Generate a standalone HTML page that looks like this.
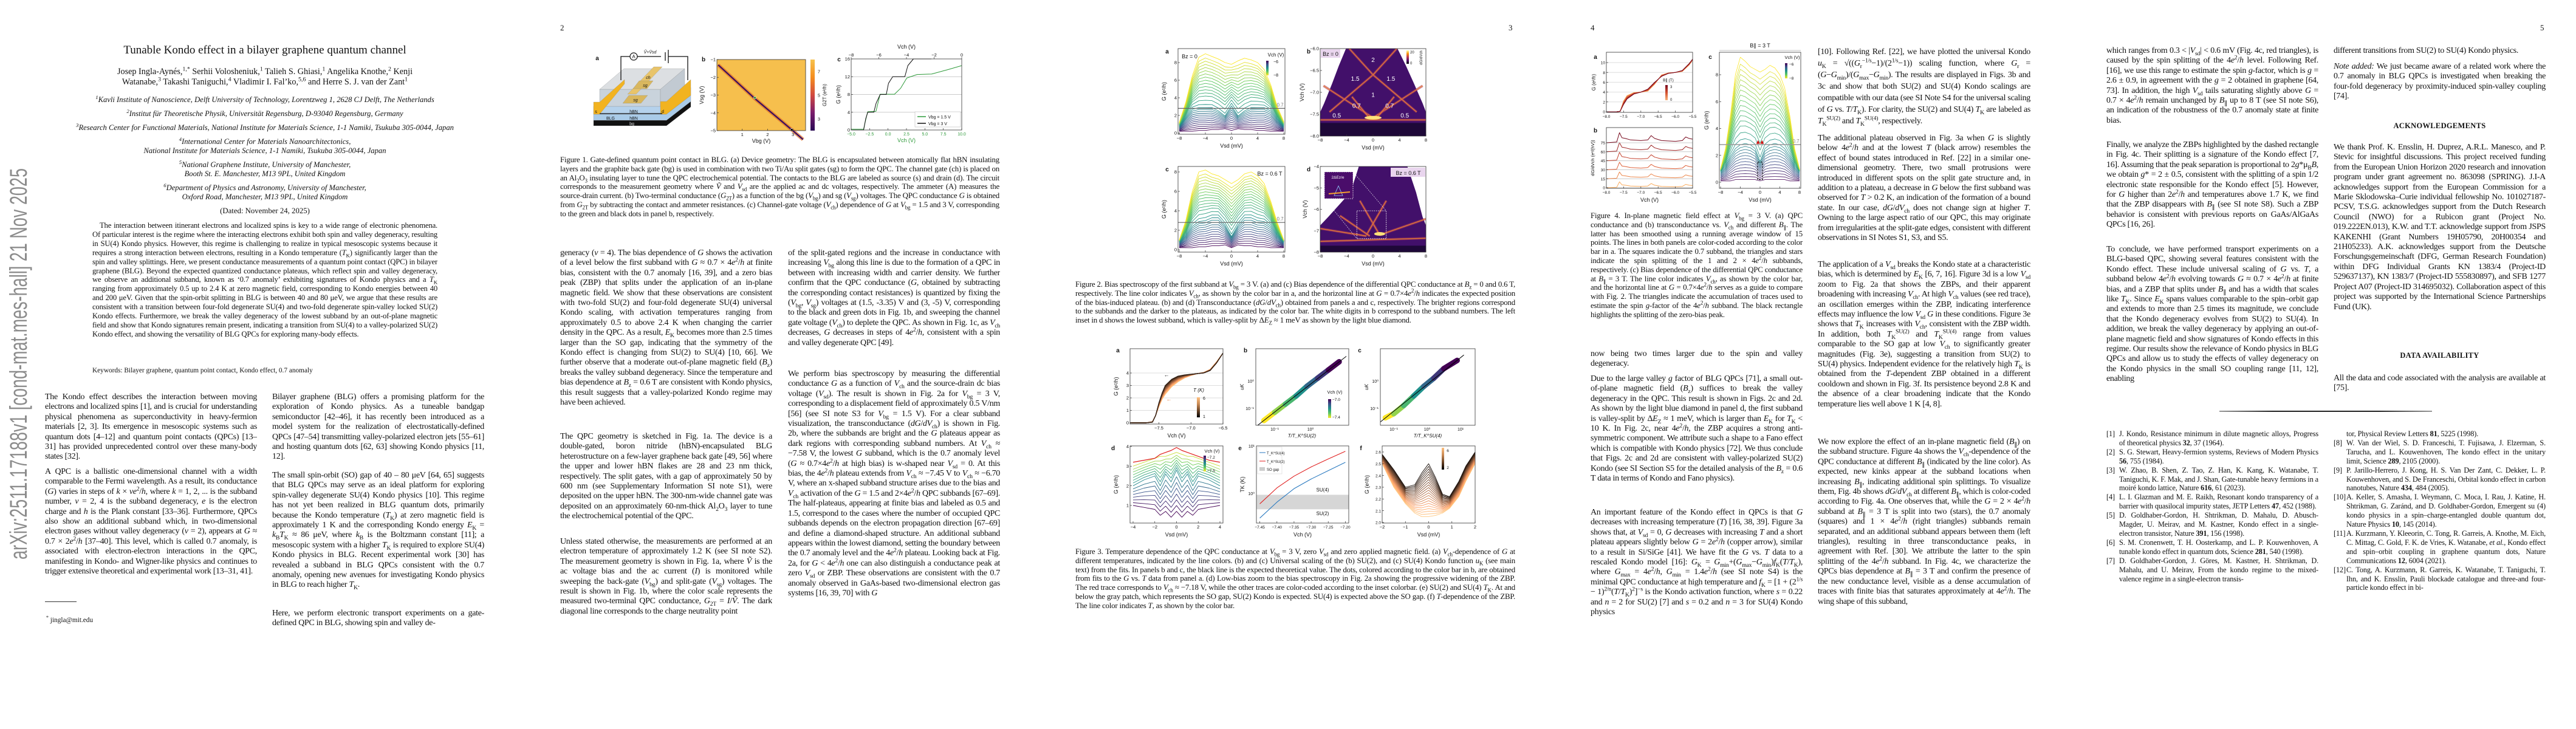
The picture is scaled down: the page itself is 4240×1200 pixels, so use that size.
<!DOCTYPE html>
<html><head><meta charset="utf-8">
<style>
body{margin:0;width:4240px;height:1200px;background:#fff;position:relative;overflow:hidden;font-family:"Liberation Serif",serif;color:#111}
.t{position:absolute;font-size:14px;letter-spacing:-0.3px;line-height:16.4px;text-align:justify;overflow:hidden;margin:0}
.c{position:absolute;font-size:12.9px;letter-spacing:-0.2px;line-height:14.8px;text-align:justify;overflow:hidden;margin:0}
.r{position:absolute;font-size:12.3px;letter-spacing:-0.15px;line-height:14.9px;text-align:justify;overflow:hidden}
.ref{position:relative;padding-left:21px}
.ref .n{position:absolute;left:0;top:0}
.ctr{position:absolute;text-align:center;white-space:nowrap}
sub,sup{font-size:70%;line-height:0}
.pn{position:absolute;top:38px;font-size:13px}
h3{position:absolute;margin:0;font-size:12.5px;font-weight:bold;letter-spacing:0.3px;text-align:center;width:349px}
</style></head><body>

<div class="pn" style="left:922px">2</div>
<div class="pn" style="left:2483px">3</div>
<div class="pn" style="left:2618px">4</div>
<div class="pn" style="left:4181px">5</div>

<!-- PAGE 1 -->
<div class="ctr" style="left:74px;width:724px;top:72px;font-size:19px">Tunable Kondo effect in a bilayer graphene quantum channel</div>
<div class="ctr" style="left:74px;width:724px;top:110px;font-size:14.2px;line-height:17px">Josep Ingla-Aynés,<sup>1,*</sup> Serhii Volosheniuk,<sup>1</sup> Talieh S. Ghiasi,<sup>1</sup> Angelika Knothe,<sup>2</sup> Kenji<br>Watanabe,<sup>3</sup> Takashi Taniguchi,<sup>4</sup> Vladimir I. Fal’ko,<sup>5,6</sup> and Herre S. J. van der Zant<sup>1</sup></div>
<div class="ctr" style="left:74px;width:724px;top:157px;font-size:12.6px;font-style:italic"><sup>1</sup>Kavli Institute of Nanoscience, Delft University of Technology, Lorentzweg 1, 2628 CJ Delft, The Netherlands</div>
<div class="ctr" style="left:74px;width:724px;top:180px;font-size:12.6px;font-style:italic"><sup>2</sup>Institut für Theoretische Physik, Universität Regensburg, D-93040 Regensburg, Germany</div>
<div class="ctr" style="left:74px;width:724px;top:203px;font-size:12.6px;font-style:italic"><sup>3</sup>Research Center for Functional Materials, National Institute for Materials Science, 1-1 Namiki, Tsukuba 305-0044, Japan</div>
<div class="ctr" style="left:74px;width:724px;top:226px;font-size:12.6px;line-height:15px;font-style:italic"><sup>4</sup>International Center for Materials Nanoarchitectonics,<br>National Institute for Materials Science, 1-1 Namiki, Tsukuba 305-0044, Japan</div>
<div class="ctr" style="left:74px;width:724px;top:264px;font-size:12.6px;line-height:15px;font-style:italic"><sup>5</sup>National Graphene Institute, University of Manchester,<br>Booth St. E. Manchester, M13 9PL, United Kingdom</div>
<div class="ctr" style="left:74px;width:724px;top:302px;font-size:12.6px;line-height:15px;font-style:italic"><sup>6</sup>Department of Physics and Astronomy, University of Manchester,<br>Oxford Road, Manchester, M13 9PL, United Kingdom</div>
<div class="ctr" style="left:74px;width:724px;top:340px;font-size:12.8px">(Dated: November 24, 2025)</div>
<p class="c" style="left:152px;top:364px;width:568px;height:224px;font-size:12.7px;line-height:14.9px;text-indent:12px">The interaction between itinerant electrons and localized spins is key to a wide range of electronic phenomena. Of particular interest is the regime where the interacting electrons exhibit both spin and valley degeneracy, resulting in SU(4) Kondo physics. However, this regime is challenging to realize in typical mesoscopic systems because it requires a strong interaction between electrons, resulting in a Kondo temperature (<i>T</i><sub>K</sub>) significantly larger than the spin and valley splittings. Here, we present conductance measurements of a quantum point contact (QPC) in bilayer graphene (BLG). Beyond the expected quantized conductance plateaus, which reflect spin and valley degeneracy, we observe an additional subband, known as ‘0.7 anomaly’ exhibiting signatures of Kondo physics and a <i>T</i><sub>K</sub> ranging from approximately 0.5 up to 2.4 K at zero magnetic field, corresponding to Kondo energies between 40 and 200 μeV. Given that the spin-orbit splitting in BLG is between 40 and 80 μeV, we argue that these results are consistent with a transition between four-fold degenerate SU(4) and two-fold degenerate spin-valley locked SU(2) Kondo effects. Furthermore, we break the valley degeneracy of the lowest subband by an out-of-plane magnetic field and show that Kondo signatures remain present, indicating a transition from SU(4) to a valley-polarized SU(2) Kondo effect, and showing the versatility of BLG QPCs for exploring many-body effects.</p>
<div style="position:absolute;left:152px;top:604px;font-size:11.3px">Keywords: Bilayer graphene, quantum point contact, Kondo effect, 0.7 anomaly</div>

<p class="t" style="left:74px;top:646px;width:349px;height:115px">The Kondo effect describes the interaction between moving electrons and localized spins [1], and is crucial for understanding physical phenomena as superconductivity in heavy-fermion materials [2, 3]. Its emergence in mesoscopic systems such as quantum dots [4–12] and quantum point contacts (QPCs) [13–31] has provided unprecedented control over these many-body states [32].</p>
<p class="t" style="left:74px;top:769px;width:349px;height:214px">A QPC is a ballistic one-dimensional channel with a width comparable to the Fermi wavelength. As a result, its conductance (<i>G</i>) varies in steps of <i>k</i> × <i>νe</i><sup>2</sup>/<i>h</i>, where <i>k</i> = 1, 2, ... is the subband number, <i>ν</i> = 2, 4 is the subband degeneracy, <i>e</i> is the electron charge and <i>h</i> is the Plank constant [33–36]. Furthermore, QPCs also show an additional subband which, in two-dimensional electron gases without valley degeneracy (<i>ν</i> = 2), appears at <i>G</i> ≈ 0.7 × 2<i>e</i><sup>2</sup>/<i>h</i> [37–40]. This level, which is called 0.7 anomaly, is associated with electron-electron interactions in the QPC, manifesting in Kondo- and Wigner-like physics and continues to trigger extensive theoretical and experimental work [13–31, 41].</p>
<div style="position:absolute;left:74px;top:990px;width:52px;border-top:1px solid #333"></div>
<div style="position:absolute;left:76px;top:1015px;font-size:11.3px"><sup>*</sup> jingla@mit.edu</div>

<p class="t" style="left:448px;top:646px;width:349px;height:115px">Bilayer graphene (BLG) offers a promising platform for the exploration of Kondo physics. As a tuneable bandgap semiconductor [42–46], it has recently been introduced as a model system for the realization of electrostatically-defined QPCs [47–54] transmitting valley-polarized electron jets [55–61] and hosting quantum dots [62, 63] showing Kondo physics [11, 12].</p>
<p class="t" style="left:448px;top:775px;width:349px;height:214px">The small spin-orbit (SO) gap of 40 – 80 μeV [64, 65] suggests that BLG QPCs may serve as an ideal platform for exploring spin-valley degenerate SU(4) Kondo physics [10]. This regime has not yet been realized in BLG quantum dots, primarily because the Kondo temperature (<i>T</i><sub>K</sub>) at zero magnetic field is approximately 1 K and the corresponding Kondo energy <i>E</i><sub>K</sub> = <i>k</i><sub>B</sub><i>T</i><sub>K</sub> ≈ 86 μeV, where <i>k</i><sub>B</sub> is the Boltzmann constant [11]; a mesoscopic system with a higher <i>T</i><sub>K</sub> is required to explore SU(4) Kondo physics in BLG. Recent experimental work [30] has revealed a subband in BLG QPCs consistent with the 0.7 anomaly, opening new avenues for investigating Kondo physics in BLG to reach higher <i>T</i><sub>K</sub>.</p>
<p class="t" style="left:448px;top:1002px;width:349px;height:33px">Here, we perform electronic transport experiments on a gate-defined QPC in BLG, showing spin and valley de-</p>

<!-- PAGE 2 -->
<p class="c" style="left:922px;top:256px;width:723px;height:120px">Figure 1. Gate-defined quantum point contact in BLG. (a) Device geometry: The BLG is encapsulated between atomically flat hBN insulating layers and the graphite back gate (bg) is used in combination with two Ti/Au split gates (sg) to form the QPC. The channel gate (ch) is placed on an Al<sub>2</sub>O<sub>3</sub> insulating layer to tune the QPC electrochemical potential. The contacts to the BLG are labeled as source (s) and drain (d). The circuit corresponds to the measurement geometry where <i>Ṽ</i> and <i>V</i><sub>sd</sub> are the applied ac and dc voltages, respectively. The ammeter (A) measures the source-drain current. (b) Two-terminal conductance (<i>G</i><sub>2T</sub>) as a function of the bg (<i>V</i><sub>bg</sub>) and sg (<i>V</i><sub>sg</sub>) voltages. The QPC conductance <i>G</i> is obtained from <i>G</i><sub>2T</sub> by subtracting the contact and ammeter resistances. (c) Channel-gate voltage (<i>V</i><sub>ch</sub>) dependence of <i>G</i> at <i>V</i><sub>bg</sub> = 1.5 and 3 V, corresponding to the green and black dots in panel b, respectively.</p>
<p class="t" style="left:922px;top:409px;width:349px;height:295px">generacy (<i>ν</i> = 4). The bias dependence of <i>G</i> shows the activation of a level below the first subband with <i>G</i> ≈ 0.7 × 4<i>e</i><sup>2</sup>/<i>h</i> at finite bias, consistent with the 0.7 anomaly [16, 39], and a zero bias peak (ZBP) that splits under the application of an in-plane magnetic field. We show that these observations are consistent with two-fold SU(2) and four-fold degenerate SU(4) universal Kondo scaling, with activation temperatures ranging from approximately 0.5 to above 2.4 K when changing the carrier density in the QPC. As a result, <i>E</i><sub>K</sub> becomes more than 2.5 times larger than the SO gap, indicating that the symmetry of the Kondo effect is changing from SU(2) to SU(4) [10, 66]. We further observe that a moderate out-of-plane magnetic field (<i>B</i><sub>z</sub>) breaks the valley subband degeneracy. Since the temperature and bias dependence at <i>B</i><sub>z</sub> = 0.6 T are consistent with Kondo physics, this result suggests that a valley-polarized Kondo regime may have been achieved.</p>
<p class="t" style="left:922px;top:711px;width:349px;height:164px">The QPC geometry is sketched in Fig. 1a. The device is a double-gated, boron nitride (hBN)-encapsulated BLG heterostructure on a few-layer graphene back gate [49, 56] where the upper and lower hBN flakes are 28 and 23 nm thick, respectively. The split gates, with a gap of approximately 50 by 600 nm (see Supplementary Information SI note S1), were deposited on the upper hBN. The 300-nm-wide channel gate was deposited on an approximately 60-nm-thick Al<sub>2</sub>O<sub>3</sub> layer to tune the electrochemical potential of the QPC.</p>
<p class="t" style="left:922px;top:884px;width:349px;height:148px">Unless stated otherwise, the measurements are performed at an electron temperature of approximately 1.2 K (see SI note S2). The measurement geometry is shown in Fig. 1a, where <i>Ṽ</i> is the ac voltage bias and the ac current (<i>I</i>) is monitored while sweeping the back-gate (<i>V</i><sub>bg</sub>) and split-gate (<i>V</i><sub>sg</sub>) voltages. The result is shown in Fig. 1b, where the color scale represents the measured two-terminal QPC conductance, <i>G</i><sub>2T</sub> = <i>I</i>/<i>Ṽ</i>. The dark diagonal line corresponds to the charge neutrality point</p>
<p class="t" style="left:1297px;top:409px;width:349px;height:181px">of the split-gated regions and the increase in conductance with increasing <i>V</i><sub>bg</sub> along this line is due to the formation of a QPC in between with increasing width and carrier density. We further confirm that the QPC conductance (<i>G</i>, obtained by subtracting the corresponding contact resistances) is quantized by fixing the (<i>V</i><sub>bg</sub>, <i>V</i><sub>sg</sub>) voltages at (1.5, -3.35) V and (3, -5) V, corresponding to the black and green dots in Fig. 1b, and sweeping the channel gate voltage (<i>V</i><sub>ch</sub>) to deplete the QPC. As shown in Fig. 1c, as <i>V</i><sub>ch</sub> decreases, <i>G</i> decreases in steps of 4<i>e</i><sup>2</sup>/<i>h</i>, consistent with a spin and valley degenerate QPC [49].</p>
<p class="t" style="left:1297px;top:608px;width:349px;height:427px">We perform bias spectroscopy by measuring the differential conductance <i>G</i> as a function of <i>V</i><sub>ch</sub> and the source-drain dc bias voltage (<i>V</i><sub>sd</sub>). The result is shown in Fig. 2a for <i>V</i><sub>bg</sub> = 3 V, corresponding to a displacement field of approximately 0.5 V/nm [56] (see SI note S3 for <i>V</i><sub>bg</sub> = 1.5 V). For a clear subband visualization, the transconductance (<i>dG</i>/<i>dV</i><sub>ch</sub>) is shown in Fig. 2b, where the subbands are bright and the <i>G</i> plateaus appear as dark regions with corresponding subband numbers. At <i>V</i><sub>ch</sub> ≈ −7.58 V, the lowest <i>G</i> subband, which is the 0.7 anomaly level (<i>G</i> ≈ 0.7×4<i>e</i><sup>2</sup>/<i>h</i> at high bias) is w-shaped near <i>V</i><sub>sd</sub> = 0. At this bias, the 4<i>e</i><sup>2</sup>/<i>h</i> plateau extends from <i>V</i><sub>ch</sub> ≈ −7.45 V to <i>V</i><sub>ch</sub> ≈ −6.70 V, where an x-shaped subband structure arises due to the bias and <i>V</i><sub>ch</sub> activation of the <i>G</i> = 1.5 and 2×4<i>e</i><sup>2</sup>/<i>h</i> QPC subbands [67–69]. The half-plateaus, appearing at finite bias and labeled as 0.5 and 1.5, correspond to the cases where the number of occupied QPC subbands depends on the electron propagation direction [67–69] and define a diamond-shaped structure. An additional subband appears within the lowest diamond, setting the boundary between the 0.7 anomaly level and the 4<i>e</i><sup>2</sup>/<i>h</i> plateau. Looking back at Fig. 2a, for <i>G</i> &lt; 4<i>e</i><sup>2</sup>/<i>h</i> one can also distinguish a conductance peak at zero <i>V</i><sub>sd</sub> or ZBP. These observations are consistent with the 0.7 anomaly observed in GaAs-based two-dimensional electron gas systems [16, 39, 70] with <i>G</i></p>

<!-- PAGE 3 -->
<p class="c" style="left:1770px;top:461px;width:724px;height:90px">Figure 2. Bias spectroscopy of the first subband at <i>V</i><sub>bg</sub> = 3 V. (a) and (c) Bias dependence of the differential QPC conductance at <i>B</i><sub>z</sub> = 0 and 0.6 T, respectively. The line color indicates <i>V</i><sub>ch</sub>, as shown by the color bar in a, and the horizontal line at <i>G</i> = 0.7×4<i>e</i><sup>2</sup>/<i>h</i> indicates the expected position of the bias-induced plateau. (b) and (d) Transconductance (<i>dG</i>/<i>dV</i><sub>ch</sub>) obtained from panels a and c, respectively. The brighter regions correspond to the subbands and the darker to the plateaus, as indicated by the color bar. The white digits in b correspond to the subband numbers. The left inset in d shows the lowest subband, which is valley-split by Δ<i>E</i><sub>Z</sub> ≈ 1 meV as shown by the light blue diamond.</p>
<p class="c" style="left:1770px;top:901px;width:724px;height:120px">Figure 3. Temperature dependence of the QPC conductance at <i>V</i><sub>bg</sub> = 3 V, zero <i>V</i><sub>sd</sub> and zero applied magnetic field. (a) <i>V</i><sub>ch</sub>-dependence of <i>G</i> at different temperatures, indicated by the line colors. (b) and (c) Universal scaling of the (b) SU(2), and (c) SU(4) Kondo function <i>u</i><sub>K</sub> (see main text) from the fits. In panels b and c, the black line is the expected theoretical value. The dots, colored according to the color bar in b, are obtained from fits to the <i>G</i> vs. <i>T</i> data from panel a. (d) Low-bias zoom to the bias spectroscopy in Fig. 2a showing the progressive widening of the ZBP. The red trace corresponds to <i>V</i><sub>ch</sub> ≈ −7.18 V, while the other traces are color-coded according to the inset colorbar. (e) SU(2) and SU(4) <i>T</i><sub>K</sub>. At and below the gray patch, which represents the SO gap, SU(2) Kondo is expected. SU(4) is expected above the SO gap. (f) <i>T</i>-dependence of the ZBP. The line color indicates <i>T</i>, as shown by the color bar.</p>

<!-- PAGE 4 -->
<p class="c" style="left:2618px;top:348px;width:349px;height:194px">Figure 4. In-plane magnetic field effect at <i>V</i><sub>bg</sub> = 3 V. (a) QPC conductance and (b) transconductance vs. <i>V</i><sub>ch</sub> and different <i>B</i><sub>∥</sub>. The latter has been smoothed using a running average window of 15 points. The lines in both panels are color-coded according to the color bar in a. The squares indicate the 0.7 subband, the triangles and stars indicate the spin splitting of the 1 and 2 × 4<i>e</i><sup>2</sup>/<i>h</i> subbands, respectively. (c) Bias dependence of the differential QPC conductance at <i>B</i><sub>∥</sub> = 3 T. The line color indicates <i>V</i><sub>ch</sub>, as shown by the color bar, and the horizontal line at <i>G</i> = 0.7×4<i>e</i><sup>2</sup>/<i>h</i> serves as a guide to compare with Fig. 2. The triangles indicate the accumulation of traces used to estimate the spin <i>g</i>-factor of the 4<i>e</i><sup>2</sup>/<i>h</i> subband. The black rectangle highlights the splitting of the zero-bias peak.</p>
<p class="t" style="left:2618px;top:575px;width:349px;height:33px">now being two times larger due to the spin and valley degeneracy.</p>
<p class="t" style="left:2618px;top:616px;width:349px;height:214px">Due to the large valley <i>g</i> factor of BLG QPCs [71], a small out-of-plane magnetic field (<i>B</i><sub>z</sub>) suffices to break the valley degeneracy in the QPC. This result is shown in Figs. 2c and 2d. As shown by the light blue diamond in panel d, the first subband is valley-split by Δ<i>E</i><sub>Z</sub> ≈ 1 meV, which is larger than <i>E</i><sub>K</sub> for <i>T</i><sub>K</sub> &lt; 10 K. In Fig. 2c, near 4<i>e</i><sup>2</sup>/<i>h</i>, the ZBP acquires a strong anti-symmetric component. We attribute such a shape to a Fano effect which is compatible with Kondo physics [72]. We thus conclude that Figs. 2c and 2d are consistent with valley-polarized SU(2) Kondo (see SI Section S5 for the detailed analysis of the <i>B</i><sub>z</sub> = 0.6 T data in terms of Kondo and Fano physics).</p>
<p class="t" style="left:2618px;top:836px;width:349px;height:197px">An important feature of the Kondo effect in QPCs is that <i>G</i> decreases with increasing temperature (<i>T</i>) [16, 38, 39]. Figure 3a shows that, at <i>V</i><sub>sd</sub> = 0, <i>G</i> decreases with increasing <i>T</i> and a short plateau appears slightly below <i>G</i> = 2<i>e</i><sup>2</sup>/<i>h</i> (copper arrow), similar to a result in Si/SiGe [41]. We have fit the <i>G</i> vs. <i>T</i> data to a rescaled Kondo model [16]: <i>G</i><sub>K</sub> = <i>G</i><sub>min</sub>+(<i>G</i><sub>max</sub>−<i>G</i><sub>min</sub>)<i>f</i><sub>K</sub>(<i>T</i>/<i>T</i><sub>K</sub>), where <i>G</i><sub>max</sub> = 4<i>e</i><sup>2</sup>/<i>h</i>, <i>G</i><sub>min</sub> = 1.4<i>e</i><sup>2</sup>/<i>h</i> (see SI note S4) is the minimal QPC conductance at high temperature and <i>f</i><sub>K</sub> = [1 + (2<sup>1/s</sup> − 1)<sup>2/n</sup>(<i>T</i>/<i>T</i><sub>K</sub>)<sup>2</sup>]<sup>−s</sup> is the Kondo activation function, where <i>s</i> = 0.22 and <i>n</i> = 2 for SU(2) [7] and <i>s</i> = 0.2 and <i>n</i> = 3 for SU(4) Kondo physics</p>
<p class="t" style="left:2992px;top:76px;width:350px;height:134px;line-height:19px">[10]. Following Ref. [22], we have plotted the universal Kondo <i>u</i><sub>K</sub> = √((<i>G</i><sub>r</sub><sup>−1/s</sup>−1)/(2<sup>1/s</sup>−1)) scaling function, where <i>G</i><sub>r</sub> = (<i>G</i>−<i>G</i><sub>min</sub>)/(<i>G</i><sub>max</sub>−<i>G</i><sub>min</sub>). The results are displayed in Figs. 3b and 3c and show that both SU(2) and SU(4) Kondo scalings are compatible with our data (see SI Note S4 for the universal scaling of <i>G</i> vs. <i>T</i>/<i>T</i><sub>K</sub>). For clarity, the SU(2) and SU(4) <i>T</i><sub>K</sub> are labeled as <i>T</i><sub>K</sub><sup>SU(2)</sup> and <i>T</i><sub>K</sub><sup>SU(4)</sup>, respectively.</p>
<p class="t" style="left:2992px;top:220px;width:350px;height:197px">The additional plateau observed in Fig. 3a when <i>G</i> is slightly below 4<i>e</i><sup>2</sup>/<i>h</i> and at the lowest <i>T</i> (black arrow) resembles the effect of bound states introduced in Ref. [22] in a similar one-dimensional geometry. There, two small protrusions were introduced in different spots on the split gate structure and, in addition to a plateau, a decrease in <i>G</i> below the first subband was observed for <i>T</i> &gt; 0.2 K, an indication of the formation of a bound state. In our case, <i>dG</i>/<i>dV</i><sub>ch</sub> does not change sign at higher <i>T</i>. Owning to the large aspect ratio of our QPC, this may originate from irregularities at the split-gate edges, consistent with different observations in SI Notes S1, S3, and S5.</p>
<p class="t" style="left:2992px;top:428px;width:350px;height:280px">The application of a <i>V</i><sub>sd</sub> breaks the Kondo state at a characteristic bias, which is determined by <i>E</i><sub>K</sub> [6, 7, 16]. Figure 3d is a low <i>V</i><sub>sd</sub> zoom to Fig. 2a that shows the ZBPs, and their apparent broadening with increasing <i>V</i><sub>ch</sub>. At high <i>V</i><sub>ch</sub> values (see red trace), an oscillation emerges within the ZBP, indicating interference effects may influence the low <i>V</i><sub>sd</sub> <i>G</i> in these conditions. Figure 3e shows that <i>T</i><sub>K</sub> increases with <i>V</i><sub>ch</sub>, consistent with the ZBP width. In addition, both <i>T</i><sub>K</sub><sup>SU(2)</sup> and <i>T</i><sub>K</sub><sup>SU(4)</sup> range from values comparable to the SO gap at low <i>V</i><sub>ch</sub> to significantly greater magnitudes (Fig. 3e), suggesting a transition from SU(2) to SU(4) physics. Independent evidence for the relatively high <i>T</i><sub>K</sub> is obtained from the <i>T</i>-dependent ZBP obtained in a different cooldown and shown in Fig. 3f. Its persistence beyond 2.8 K and the absence of a clear broadening indicate that the Kondo temperature lies well above 1 K [4, 8].</p>
<p class="t" style="left:2992px;top:720px;width:350px;height:313px">We now explore the effect of an in-plane magnetic field (<i>B</i><sub>∥</sub>) on the subband structure. Figure 4a shows the <i>V</i><sub>ch</sub>-dependence of the QPC conductance at different <i>B</i><sub>∥</sub> (indicated by the line color). As expected, new kinks appear at the subband locations when increasing <i>B</i><sub>∥</sub>, indicating additional spin splittings. To visualize them, Fig. 4b shows <i>dG</i>/<i>dV</i><sub>ch</sub> at different <i>B</i><sub>∥</sub>, which is color-coded according to Fig. 4a. One observes that, while the <i>G</i> = 2 × 4<i>e</i><sup>2</sup>/<i>h</i> subband at <i>B</i><sub>∥</sub> = 3 T is split into two (stars), the 0.7 anomaly (squares) and 1 × 4<i>e</i><sup>2</sup>/<i>h</i> (right triangles) subbands remain separated, and an additional subband appears between them (left triangles), resulting in three transconductance peaks, in agreement with Ref. [30]. We attribute the latter to the spin splitting of the 4<i>e</i><sup>2</sup>/<i>h</i> subband. In Fig. 4c, we characterize the QPCs bias dependence at <i>B</i><sub>∥</sub> = 3 T and confirm the presence of the new conductance level, visible as a dense accumulation of traces with finite bias that saturates approximately at 4<i>e</i><sup>2</sup>/<i>h</i>. The wing shape of this subband,</p>

<!-- PAGE 5 -->
<p class="t" style="left:3467px;top:76px;width:349px;height:148px">which ranges from 0.3 &lt; |<i>V</i><sub>sd</sub>| &lt; 0.6 mV (Fig. 4c, red triangles), is caused by the spin splitting of the 4<i>e</i><sup>2</sup>/<i>h</i> level. Following Ref. [16], we use this range to estimate the spin <i>g</i>-factor, which is <i>g</i> = 2.6 ± 0.9, in agreement with the <i>g</i> = 2 obtained in graphene [64, 73]. In addition, the high <i>V</i><sub>sd</sub> tails saturating slightly above <i>G</i> = 0.7 × 4<i>e</i><sup>2</sup>/<i>h</i> remain unchanged by <i>B</i><sub>∥</sub> up to 8 T (see SI note S6), an indication of the robustness of the 0.7 anomaly state at finite bias.</p>
<p class="t" style="left:3467px;top:231px;width:349px;height:164px">Finally, we analyze the ZBPs highlighted by the dashed rectangle in Fig. 4c. Their splitting is a signature of the Kondo effect [7, 16]. Assuming that the peak separation is proportional to 2<i>g</i>*μ<sub>B</sub><i>B</i>, we obtain <i>g</i>* = 2 ± 0.5, consistent with the splitting of a spin 1/2 electronic state responsible for the Kondo effect [5]. However, for <i>G</i> higher than 2<i>e</i><sup>2</sup>/<i>h</i> and temperatures above 1.7 K, we find that the ZBP disappears with <i>B</i><sub>∥</sub> (see SI note S8). Such a ZBP behavior is consistent with previous reports on GaAs/AlGaAs QPCs [16, 26].</p>
<p class="t" style="left:3467px;top:403px;width:349px;height:247px">To conclude, we have performed transport experiments on a BLG-based QPC, showing several features consistent with the Kondo effect. These include universal scaling of <i>G</i> vs. <i>T</i>, a subband below 4<i>e</i><sup>2</sup>/<i>h</i> evolving towards <i>G</i> ≈ 0.7 × 4<i>e</i><sup>2</sup>/<i>h</i> at finite bias, and a ZBP that splits under <i>B</i><sub>∥</sub> and has a width that scales like <i>T</i><sub>K</sub>. Since <i>E</i><sub>K</sub> spans values comparable to the spin–orbit gap and extends to more than 2.5 times its magnitude, we conclude that the Kondo degeneracy evolves from SU(2) to SU(4). In addition, we break the valley degeneracy by applying an out-of-plane magnetic field and show signatures of Kondo effects in this regime. Our results show the relevance of Kondo physics in BLG QPCs and allow us to study the effects of valley degeneracy on the Kondo physics in the small SO coupling range [11, 12], enabling</p>
<p class="t" style="left:3841px;top:76px;width:349px;height:17px">different transitions from SU(2) to SU(4) Kondo physics.</p>
<p class="t" style="left:3841px;top:102px;width:349px;height:66px"><i>Note added:</i> We just became aware of a related work where the 0.7 anomaly in BLG QPCs is investigated when breaking the four-fold degeneracy by proximity-induced spin-valley coupling [74].</p>
<h3 style="left:3841px;top:200px">ACKNOWLEDGEMENTS</h3>
<p class="t" style="left:3841px;top:235px;width:349px;height:313px">We thank Prof. K. Ensslin, H. Duprez, A.R.L. Manesco, and P. Stevic for insightful discussions. This project received funding from the European Union Horizon 2020 research and innovation program under grant agreement no. 863098 (SPRING). J.I-A acknowledges support from the European Commission for a Marie Sklodowska–Curie individual fellowship No. 101027187-PCSV, T.S.G. acknowledges support from the Dutch Research Council (NWO) for a Rubicon grant (Project No. 019.222EN.013), K.W. and T.T. acknowledge support from JSPS KAKENHI (Grant Numbers 19H05790, 20H00354 and 21H05233). A.K. acknowledges support from the Deutsche Forschungsgemeinschaft (DFG, German Research Foundation) within DFG Individual Grants KN 1383/4 (Project-ID 529637137), KN 1383/7 (Project-ID 555830897), and SFB 1277 Project A07 (Project-ID 314695032). Collaboration aspect of this project was supported by the International Science Partnerships Fund (UK).</p>
<h3 style="left:3841px;top:578px">DATA AVAILABILITY</h3>
<p class="t" style="left:3841px;top:615px;width:349px;height:33px">All the data and code associated with the analysis are available at [75].</p>
<div style="position:absolute;left:3653px;top:676px;width:350px;height:2px;background:linear-gradient(90deg,#999,#222 25%,#222 75%,#999)"></div>
<div class="r" style="left:3467px;top:707px;width:349px;height:315px">
<div class="ref"><span class="n">[1]</span>J. Kondo, Resistance minimum in dilute magnetic alloys, Progress of theoretical physics <b>32</b>, 37 (1964).</div>
<div class="ref"><span class="n">[2]</span>S. G. Stewart, Heavy-fermion systems, Reviews of Modern Physics <b>56</b>, 755 (1984).</div>
<div class="ref"><span class="n">[3]</span>W. Zhao, B. Shen, Z. Tao, Z. Han, K. Kang, K. Watanabe, T. Taniguchi, K. F. Mak, and J. Shan, Gate-tunable heavy fermions in a moiré kondo lattice, Nature <b>616</b>, 61 (2023).</div>
<div class="ref"><span class="n">[4]</span>L. I. Glazman and M. E. Raikh, Resonant kondo transparency of a barrier with quasilocal impurity states, JETP Letters <b>47</b>, 452 (1988).</div>
<div class="ref"><span class="n">[5]</span>D. Goldhaber-Gordon, H. Shtrikman, D. Mahalu, D. Abusch-Magder, U. Meirav, and M. Kastner, Kondo effect in a single-electron transistor, Nature <b>391</b>, 156 (1998).</div>
<div class="ref"><span class="n">[6]</span>S. M. Cronenwett, T. H. Oosterkamp, and L. P. Kouwenhoven, A tunable kondo effect in quantum dots, Science <b>281</b>, 540 (1998).</div>
<div class="ref"><span class="n">[7]</span>D. Goldhaber-Gordon, J. Göres, M. Kastner, H. Shtrikman, D. Mahalu, and U. Meirav, From the kondo regime to the mixed-valence regime in a single-electron transis-</div>
</div>
<div class="r" style="left:3841px;top:707px;width:349px;height:315px">
<div class="ref">tor, Physical Review Letters <b>81</b>, 5225 (1998).</div>
<div class="ref"><span class="n">[8]</span>W. Van der Wiel, S. D. Franceschi, T. Fujisawa, J. Elzerman, S. Tarucha, and L. Kouwenhoven, The kondo effect in the unitary limit, Science <b>289</b>, 2105 (2000).</div>
<div class="ref"><span class="n">[9]</span>P. Jarillo-Herrero, J. Kong, H. S. Van Der Zant, C. Dekker, L. P. Kouwenhoven, and S. De Franceschi, Orbital kondo effect in carbon nanotubes, Nature <b>434</b>, 484 (2005).</div>
<div class="ref"><span class="n">[10]</span>A. Keller, S. Amasha, I. Weymann, C. Moca, I. Rau, J. Katine, H. Shtrikman, G. Zaránd, and D. Goldhaber-Gordon, Emergent su (4) kondo physics in a spin–charge-entangled double quantum dot, Nature Physics <b>10</b>, 145 (2014).</div>
<div class="ref"><span class="n">[11]</span>A. Kurzmann, Y. Kleeorin, C. Tong, R. Garreis, A. Knothe, M. Eich, C. Mittag, C. Gold, F. K. de Vries, K. Watanabe, <i>et al.</i>, Kondo effect and spin–orbit coupling in graphene quantum dots, Nature Communications <b>12</b>, 6004 (2021).</div>
<div class="ref"><span class="n">[12]</span>C. Tong, A. Kurzmann, R. Garreis, K. Watanabe, T. Taniguchi, T. Ihn, and K. Ensslin, Pauli blockade catalogue and three-and four-particle kondo effect in bi-</div>
</div>

<svg id="figs" width="4240" height="1200" style="position:absolute;left:0;top:0" xmlns="http://www.w3.org/2000/svg">
<defs id="defs"></defs>
<text x="44" y="921" transform="rotate(-90 44 921)" font-family="Liberation Sans, sans-serif" font-size="40" fill="#8c8c8c" textLength="644" lengthAdjust="spacingAndGlyphs">arXiv:2511.17188v1  [cond-mat.mes-hall]  21 Nov 2025</text>
</svg>

<script>
/* ---------- DATA ---------- */
// Fig 1b
const f1bLineVbg=[0.05,1.5,2.95,3.4];
const f1bLineVsg=[-1.3,-3.2,-4.95,-5.5];
const f1bDotsVbg=[1.5,2.95];
const f1bDotsVsg=[-3.15,-4.95];
const f1bXTicks=[1,2,3];
const f1bYTicks=[-1,-2,-3,-4,-5];
const f1bCbTicks=[3,5,7];
// Fig 1c
const f1cBlackVch=[-8,-7.1,-6.95,-6.8,-6.36,-6.2,-5.9,-5.46,-5.3,-5.0,-4.12,-3.9,-3.5,-2.2];
const f1cBlackG=[0,0,2.5,4,4,6,8,8,10.5,12,12,14.5,16,16];
const f1cGreenVch=[-5,-3.32,-3.0,-2.76,-1.64,-1.3,-1.08,0.88,1.71,2.55,3.95,5.91,8.15,10];
const f1cGreenG=[0.16,0.16,2.5,4.1,4.2,6.5,8.05,8.05,9.4,11.7,12.5,12.6,13.6,14.5];
const f1cGTicks=[0,4,8,12,16];
const f1cTopTicks=[-8,-6,-4,-2,0];
const f1cBotTicks=[-5.0,-2.5,0.0,2.5,5.0,7.5,10.0];
// Fig 2a/2c waterfall
const f2Vsd=[-8,-7,-6,-5,-4,-3,-2,-1,0,1,2,3,4,5,6,7,8];
const f2aTop=[1.2,3.5,6.5,8.6,9.0,8.7,8.4,8.0,7.8,8.2,8.5,8.3,8.0,7.2,5.5,3.0,1.3];
const f2aMid=[0.8,1.8,2.8,3.0,3.0,3.0,2.6,2.0,3.2,2.0,2.6,3.0,3.0,3.0,2.6,1.6,0.8];
const f2aLow=[0.2,0.2,0.2,0.3,0.3,0.4,0.4,0.5,0.3,0.5,0.4,0.4,0.3,0.3,0.2,0.2,0.2];
const f2cTop=[1.0,3.0,6.0,8.0,8.2,7.8,7.6,7.2,6.8,7.2,7.8,8.0,7.6,6.8,5.0,2.8,1.0];
const f2cMid=[0.8,1.5,2.5,3.0,3.1,3.4,3.4,2.6,1.4,2.6,3.4,3.4,3.1,3.0,2.5,1.5,0.8];
const f2cLow=[0.2,0.2,0.2,0.3,0.3,0.4,0.4,0.5,0.2,0.5,0.4,0.4,0.3,0.3,0.2,0.2,0.2];
const f2Levels=[0,0.04,0.08,0.12,0.16,0.2,0.24,0.28,0.32,0.36,0.4,0.44,0.48,0.52,0.56,0.6,0.63,0.66,0.69,0.72,0.75,0.78,0.81,0.84,0.87,0.9,0.93,0.96,1];
const f2GTicks=[0,2,4,6,8];
const f2VsdTicks=[-8,-4,0,4,8];
// Fig 2b/2d heatmap geometry (data coords)
const f2bBoundVch=[-6.0,-6.4,-6.8,-7.25,-7.45,-8.0];
const f2bBoundLeft=[-4.1,-5.2,-6.2,-7.4,-8,-8];
const f2bBoundRight=[3.7,5.0,6.2,7.5,8,8];
const f2bLines=[[-8,-7.63,8,-7.63],[0,-7.58,-7.5,-6.85],[0,-7.58,7.5,-6.85],[0,-6.6,-6.6,-7.45],[0,-6.6,6.6,-7.45],[0,-6.6,-3.6,-6.0],[0,-6.6,3.6,-6.0],[-0.6,-7.58,-3.2,-7.1],[0.6,-7.58,3.2,-7.1]];
const f2bLabels=['2','1.5','1.5','1','0.7','0.7','0.5','0.5'];
const f2bLabVsd=[0,-2.7,2.7,0,-2.5,2.5,-5.5,4.8];
const f2bLabVch=[-6.25,-6.68,-6.68,-7.05,-7.3,-7.3,-7.52,-7.52];
const f2dBoundVch=[-4,-5.2,-6.36,-6.75,-8];
const f2dBoundLeft=[-2.15,-3.4,-6.8,-8,-8];
const f2dBoundRight=[5.2,6.5,7.5,8,8];
const f2dLines=[[-8,-7.5,8,-7.35],[1,-7.2,8,-6.45],[-1,-7.25,-8,-6.9],[-2,-5.6,1,-7.2],[2,-5.6,-1,-7.2],[-0.5,-7.25,-5,-6.3]];
// Fig 3a
const f3aVch=[-7.95,-7.7,-7.6,-7.55,-7.5,-7.45,-7.4,-7.3,-7.2,-7.1,-7.0,-6.9,-6.8,-6.7,-6.6,-6.5];
const f3aG1=[0,0,0.05,0.6,1.6,2.4,3.0,3.5,3.75,3.85,3.9,3.95,4.0,4.2,4.8,5.6];
const f3aG6=[0,0,0.1,0.6,1.3,1.9,2.3,2.9,3.3,3.6,3.8,3.95,4.05,4.3,4.9,5.6];
const f3aTemps=[1,1.3,1.6,2,2.4,2.8,3.2,3.6,4,4.5,5,5.5,6];
// Fig 3b/3c
const f3bLogT=[-1.3,-1.0,-0.7,-0.4,-0.1,0.2,0.5,0.8];
const f3bLogU=[-1.45,-1.15,-0.85,-0.55,-0.2,0.1,0.4,0.7];
const f3cLogT=[-1.25,-1.0,-0.7,-0.4,-0.1,0.2,0.5,0.9];
const f3cLogU=[-1.35,-1.2,-0.9,-0.55,-0.2,0.1,0.45,0.75];
// Fig 3d
const f3dVsd=[-4,-3,-2,-1.5,-1,-0.5,0,0.5,1,1.5,2,3,4];
const f3dTop=[3.0,3.2,3.4,3.5,3.5,3.6,3.7,3.6,3.5,3.5,3.4,3.2,3.0];
const f3dMid=[2.0,2.3,2.5,2.0,2.6,2.2,2.8,2.2,2.6,2.0,2.5,2.3,2.0];
const f3dLow=[1.0,0.9,0.8,0.5,0.7,0.4,0.7,0.4,0.7,0.5,0.8,0.9,1.0];
const f3dRed=[3.2,3.3,3.4,3.6,3.7,3.8,3.95,3.8,3.7,3.6,3.5,3.3,3.2];
const f3dLevels=[0,0.07,0.14,0.21,0.28,0.35,0.42,0.5,0.57,0.64,0.71,0.78,0.85,0.92,1];
// Fig 3e
const f3eVch=[-7.45,-7.40,-7.35,-7.30,-7.25,-7.20];
const f3eSU2=[0.6,1.3,2.3,3.6,5.3,7.7];
const f3eSU4=[0.3,0.65,1.25,2.0,3.0,4.5];
const f3eSoGap=[0.46,0.93];
// Fig 3f
const f3fVsd=[-2,-1.5,-1,-0.6,-0.3,0,0.3,0.6,0.9,1.3,1.6,2];
const f3fCold=[2.58,2.45,2.3,2.32,2.42,2.5,2.38,2.24,2.22,2.35,2.48,2.6];
const f3fHot=[2.5,2.3,2.16,2.08,2.05,2.05,2.06,2.08,2.12,2.22,2.35,2.5];
const f3fTemps=[0,0.05,0.1,0.15,0.2,0.25,0.3,0.35,0.4,0.45,0.5,0.55,0.6,0.65,0.7,0.75,0.8,0.85,0.9,0.95,1];
// Fig 4a
const f4Vch=[-8,-7.7,-7.6,-7.5,-7.4,-7.2,-7.0,-6.8,-6.6,-6.4,-6.2,-6.0,-5.8,-5.6,-5.5];
const f4aB0=[0,0,0.1,2.2,3.3,3.9,4.0,4.2,5.6,7.5,7.9,8.0,8.2,9.5,10.5];
const f4aB3=[0,0,0.1,1.5,2.6,3.6,4.0,4.6,6.0,7.2,7.8,8.0,8.4,9.8,10.7];
const f4aFields=[0,0.5,1,1.5,2,2.5,3];
// Fig 4b
const f4bVch=[-8,-7.7,-7.62,-7.55,-7.45,-7.3,-7.0,-6.8,-6.7,-6.6,-6.4,-6.0,-5.8,-5.7,-5.6,-5.5];
const f4bProfile=[0,1,14,7,6,4,3,4,10,6,3,2,3,8,6,5];
const f4bOffsets=[0,15,30,45,60,75];
const f4bYTicks=[0,15,30,45,60,75];
// Fig 4c
const f4cTop=[1.0,2.5,5.0,8.0,9.3,9.0,8.6,8.4,8.2,8.4,8.7,8.5,8.0,7.0,5.0,2.5,1.0];
const f4cMid=[0.8,1.2,2.0,2.6,2.9,3.0,2.9,2.6,1.6,2.6,2.9,3.0,2.9,2.6,2.0,1.2,0.8];
const f4cLow=[0.1,0.1,0.1,0.2,0.2,0.2,0.2,0.2,0.1,0.2,0.2,0.2,0.2,0.2,0.1,0.1,0.1];

/* ---------- HELPERS ---------- */
const NS='http://www.w3.org/2000/svg';
const S=document.getElementById('figs');
const DEFS=document.getElementById('defs');
function E(tag,a,p){const e=document.createElementNS(NS,tag);for(const k in a)e.setAttribute(k,a[k]);(p||S).appendChild(e);return e;}
function lin(d0,d1,r0,r1){return v=>r0+(v-d0)*(r1-r0)/(d1-d0);}
const VIR=[[68,1,84],[59,82,139],[33,145,140],[94,201,98],[253,231,37]];
const INF=[[0,0,4],[87,16,110],[188,55,84],[249,142,9],[252,255,164]];
function cmap(st,t){t=Math.max(0,Math.min(1,t));const n=st.length-1;const i=Math.min(n-1,Math.floor(t*n));const f=t*n-i;const a=st[i],b=st[i+1];return 'rgb('+Math.round(a[0]+(b[0]-a[0])*f)+','+Math.round(a[1]+(b[1]-a[1])*f)+','+Math.round(a[2]+(b[2]-a[2])*f)+')';}
function copper(t){return 'rgb('+Math.round(Math.min(255,320*t))+','+Math.round(199*t)+','+Math.round(127*t)+')';}
function redmap(t){return cmap([[250,170,90],[215,80,50],[120,10,30]],t);}
function T(name,s,x,y,o){o=o||{};const e=E('text',{x:x,y:y,'font-size':o.fs||8,'font-family':'Liberation Sans, sans-serif','text-anchor':o.a||'middle',fill:o.c||'#111'},o.p);
 if(o.rot)e.setAttribute('transform','rotate('+o.rot+' '+x+' '+y+')');
 if(o.it)e.setAttribute('font-style','italic');
 if(o.bold)e.setAttribute('font-weight','bold');
 e.textContent=s;
 
 
 return e;}
function frame(name,x,y,w,h){const r=E('rect',{x:x,y:y,width:w,height:h,fill:'none',stroke:'#333','stroke-width':0.8});
 
 
 return r;}
function xTicks(name,sx,vals,yb,fmt,o){o=o||{};vals.forEach(v=>{const x=sx(v);
 const l=E('line',{x1:x,x2:x,y1:yb,y2:yb-(o.up===false?-3:3),stroke:'#333','stroke-width':0.7});
 
 
 T(name+'-label',fmt?fmt(v):String(v).replace('-','−'),x,yb+(o.top?-4:9),{fs:o.fs||7.5,c:o.c});});}
function yTicks(name,sy,vals,xl,fmt,o){o=o||{};vals.forEach(v=>{const y=sy(v);
 const l=E('line',{x1:xl,x2:xl+3,y1:y,y2:y,stroke:'#333','stroke-width':0.7});
 
 
 T(name+'-label',fmt?fmt(v):String(v).replace('-','−'),xl-2,y+2.6,{fs:o.fs||7.5,a:'end'});});}
function path(name,xs,ys,sx,sy,col,w,p,extra){let d='';for(let i=0;i<xs.length;i++){d+=(i?'L':'M')+sx(xs[i]).toFixed(1)+','+sy(ys[i]).toFixed(1);}
 const e=E('path',{d:d,fill:'none',stroke:col,'stroke-width':w,'stroke-linejoin':'round'},p);
 if(extra)for(const k in extra)e.setAttribute(k,extra[k]);
 
 
 return e;}
function grad(id,cols,vertical){const g=E('linearGradient',{id:id,x1:0,y1:vertical?1:0,x2:vertical?0:1,y2:0},DEFS);
 cols.forEach((c,i)=>E('stop',{offset:(i/(cols.length-1)),'stop-color':c},g));}
function clip(id,x,y,w,h){const c=E('clipPath',{id:id},DEFS);E('rect',{x:x,y:y,width:w,height:h},c);}
function plabel(name,s,x,y){T(name,s,x,y,{fs:10,bold:true});}
function mapTriple(low,mid,top,f,i){return f<0.5?low[i]+(mid[i]-low[i])*f/0.5:mid[i]+(top[i]-mid[i])*(f-0.5)/0.5;}

grad('gVir',VIR.map(c=>'rgb('+c+')'),true);
grad('gInf',INF.map(c=>'rgb('+c+')'),true);
grad('gCop',['#000','#6b4528','#c98a55','#ffc07f'],true);
grad('gRed',['#f7b27a','#d4502f','#78091e'],true);
grad('gF1b',['#2a0b55','#7a1d6c','#d2493f','#f58e1f','#f6c24e'],true);

/* ---------- FIG 1a device ---------- */
(function(){
 const g=E('g',{});
 
 
 const shapes=[
  ['bg-slab','977,198 1097,198 1137,167 1137,176 1097,207 977,207','#111'],
  ['lower-hbn','977,188 1097,188 1137,157 1137,167 1097,198 977,198','#a9cbe8'],
  ['upper-hbn','977,175 1097,175 1137,144 1137,157 1097,188 977,188','#b5d2ec'],
  ['gate-box-front','987,147 1087,147 1087,175 987,175','#c9d3dc'],
  ['gate-box-top','987,147 1087,147 1127,113 1027,113','#dcdfe2'],
  ['gate-box-side','1087,147 1127,113 1127,144 1087,175','#c2cad2'],
  ['source-contact','977,168 987,168 1028,131 1028,138 987,188 977,188','#f2b320'],
  ['drain-contact','1087,167 1097,167 1137,131 1137,157 1097,188 1087,188','#f2b320'],
  ['channel-gate','1033,155 1047,155 1090,110 1076,110','#e8c46a'],
  ['split-gate-1','1052,133 1075,133 1065,146 1042,146','#d9b75e'],
  ['split-gate-2','1035,157 1066,157 1055,170 1025,170','#d9b75e']];
 shapes.forEach(s=>{const e=E('polygon',{points:s[1],fill:s[2],stroke:'#888','stroke-width':0.3},g);
  
  });
 const blg=E('line',{x1:987,y1:187,x2:1090,y2:187,stroke:'#111','stroke-width':1.2},g);
 
 
 const wire=E('path',{d:'M1022,132 V93 H1037 M1049,93 H1088 M1095,86 V100 M1100,82 V104 M1100,93 H1132 V132',fill:'none',stroke:'#111','stroke-width':1.3},g);
 
 
 const am=E('circle',{cx:1043,cy:93,r:6,fill:'#fff',stroke:'#111','stroke-width':1.2},g);
 
 
 T('fig1a-ammeter-label','A',1043,96,{fs:8,p:g});
 T('fig1a-voltage-label','Ṽ+V̄sd',1070,88,{fs:7,p:g,it:true});
 T('fig1a-label-s','s',981,186,{fs:7,p:g});
 T('fig1a-label-d','d',1091,186,{fs:7,p:g});
 T('fig1a-label-hbn1','hBN',1043,186,{fs:7,p:g});
 T('fig1a-label-hbn2','hBN',1043,197,{fs:7,p:g});
 T('fig1a-label-blg','BLG',1005,197,{fs:7,p:g});
 T('fig1a-label-bg','bg',1040,206,{fs:7,p:g,c:'#ddd'});
 T('fig1a-label-ch','ch',1067,130,{fs:7,p:g,it:true});
 T('fig1a-label-sg1','sg',1062,143,{fs:7,p:g,it:true});
 T('fig1a-label-sg2','sg',1046,167,{fs:7,p:g,it:true});
 plabel('fig1a-panel-label','a',983,99);
})();

/* ---------- FIG 1b ---------- */
(function(){
 const x0=1180,x1=1326,y0=98,y1=215;
 const sx=lin(0,3.5,x0,x1), sy=lin(-1,-5,y0,y1);
 const bg=E('rect',{x:x0,y:y0,width:x1-x0,height:y1-y0,fill:'#f6bf4d'});
 
 
 path('fig1b-cnp-halo',f1bLineVbg,f1bLineVsg,sx,sy,'#e0702a',6,null,{opacity:0.7});
 path('fig1b-cnp-line',f1bLineVbg,f1bLineVsg,sx,sy,'#3a0d5e',2.2);
 f1bDotsVbg.forEach((v,i)=>{const c=E('circle',{cx:sx(v),cy:sy(f1bDotsVsg[i]),r:2,fill:i?'#000':'#2a8a2a',stroke:'#fff','stroke-width':0.6});
  
  });
 frame('fig1b-frame',x0,y0,x1-x0,y1-y0);
 xTicks('fig1b-x',sx,f1bXTicks,y1);
 yTicks('fig1b-y',sy,f1bYTicks,x0);
 T('fig1b-x-title','Vbg (V)',(x0+x1)/2,y1+20,{fs:9});
 T('fig1b-y-title','Vsg (V)',x0-22,(y0+y1)/2,{fs:9,rot:-90});
 const cb=E('rect',{x:1334,y:y0,width:7,height:y1-y0,fill:'url(#gF1b)'});
 
 
 const cs=lin(2,8,y1,y0);
 f1bCbTicks.forEach(v=>T('fig1b-colorbar-tick',String(v),1346,cs(v)+3,{fs:7,a:'start'}));
 T('fig1b-colorbar-title','G2T (e²/h)',1360,(y0+y1)/2,{fs:8,rot:-90});
 plabel('fig1b-panel-label','b',1158,101);
})();

/* ---------- FIG 1c ---------- */
(function(){
 const x0=1401,x1=1583,y0=97,y1=214;
 const sxTop=lin(-8,0,x0,x1), sxBot=lin(-5,10,x0,x1), sy=lin(0,16,y1,y0);
 [4,8,12].forEach(v=>{const l=E('line',{x1:x0,x2:x1,y1:sy(v),y2:sy(v),stroke:'#ccc','stroke-width':1});
  
  });
 path('fig1c-vbg-1.5-trace',f1cGreenVch,f1cGreenG,sxBot,sy,'#2e9a3a',1);
 path('fig1c-vbg-3-trace',f1cBlackVch,f1cBlackG,sxTop,sy,'#111',1);
 frame('fig1c-frame',x0,y0,x1-x0,y1-y0);
 yTicks('fig1c-y',sy,f1cGTicks,x0);
 xTicks('fig1c-xtop',sxTop,f1cTopTicks,y0,null,{top:true});
 xTicks('fig1c-xbot',sxBot,f1cBotTicks,y1,v=>v.toFixed(1).replace('-','−'),{c:'#2e9a3a',fs:7});
 T('fig1c-top-title','Vch (V)',(x0+x1)/2,80,{fs:9});
 T('fig1c-bottom-title','Vch (V)',(x0+x1)/2,234,{fs:9,c:'#2e9a3a'});
 T('fig1c-y-title','G (e²/h)',x0-18,(y0+y1)/2,{fs:9,rot:-90});
 const lg=E('rect',{x:1506,y:184,width:75,height:25,fill:'#fff',stroke:'#bbb','stroke-width':0.6});
 
 
 const l1=E('line',{x1:1510,x2:1524,y1:192,y2:192,stroke:'#2e9a3a','stroke-width':1.5});
 
 
 const l2=E('line',{x1:1510,x2:1524,y1:203,y2:203,stroke:'#111','stroke-width':1.5});
 
 
 T('fig1c-legend-entry-1','Vbg = 1.5 V',1528,195,{fs:7,a:'start'});
 T('fig1c-legend-entry-2','Vbg = 3 V',1528,206,{fs:7,a:'start'});
 plabel('fig1c-panel-label','c',1381,101);
})();

/* ---------- waterfall helper ---------- */
function waterfall(name,x0,x1,y0,y1,sy,low,mid,top,levels,cmapf,w){
 const sx=lin(-8,8,x0+2,x1-2);
 levels.forEach((f,k)=>{const ys=f2Vsd.map((v,i)=>mapTriple(low,mid,top,f,i));
  path(name+'-trace',f2Vsd,ys,sx,sy,cmapf(1-f),w||0.8);});
 return sx;}

/* ---------- FIG 2a ---------- */
(function(){
 const x0=1939,x1=2115,y0=80,y1=221;
 const sy=lin(0,8,219,103);
 const sx=waterfall('fig2a-vch',x0,x1,y0,y1,sy,f2aLow,f2aMid,f2aTop,f2Levels,t=>cmap(VIR,1-t),0.9);
 const h=E('line',{x1:x0,x2:x1,y1:sy(2.8),y2:sy(2.8),stroke:'#666','stroke-width':1.2});
 
 
 T('fig2a-0.7-label','0.7',2107,sy(2.8)-3,{fs:8,c:'#777'});
 frame('fig2a-frame',x0,y0,x1-x0,y1-y0);
 yTicks('fig2a-y',sy,f2GTicks,x0);
 xTicks('fig2a-x',sx,f2VsdTicks,y1);
 T('fig2a-x-title','Vsd (mV)',(x0+x1)/2,y1+22,{fs:9});
 T('fig2a-y-title','G (e²/h)',x0-20,(y0+y1)/2,{fs:9,rot:-90});
 T('fig2a-bz-label','Bz = 0',1958,96,{fs:9});
 const cb=E('rect',{x:2084,y:100,width:4,height:24,fill:'url(#gVir)',transform:'rotate(180 2086 112)'});
 
 
 T('fig2a-colorbar-title','Vch (V)',2100,93,{fs:8});
 T('fig2a-colorbar-top','−6',2096,104,{fs:7,a:'start'});
 T('fig2a-colorbar-bottom','−8',2096,126,{fs:7,a:'start'});
 plabel('fig2a-panel-label','a',1921,88);
})();
/* ---------- FIG 2c ---------- */
(function(){
 const x0=1939,x1=2115,y0=274,y1=415;
 const sy=lin(0,8,411,283);
 const sx=waterfall('fig2c-vch',x0,x1,y0,y1,sy,f2cLow,f2cMid,f2cTop,f2Levels,t=>cmap(VIR,1-t),0.9);
 const h=E('line',{x1:x0,x2:x1,y1:sy(2.8),y2:sy(2.8),stroke:'#666','stroke-width':1.2});
 
 
 T('fig2c-0.7-label','0.7',2107,sy(2.8)-3,{fs:8,c:'#777'});
 frame('fig2c-frame',x0,y0,x1-x0,y1-y0);
 yTicks('fig2c-y',sy,f2GTicks,x0);
 xTicks('fig2c-x',sx,f2VsdTicks,y1);
 T('fig2c-x-title','Vsd (mV)',(x0+x1)/2,y1+22,{fs:9});
 T('fig2c-y-title','G (e²/h)',x0-20,(y0+y1)/2,{fs:9,rot:-90});
 T('fig2c-bz-label','Bz = 0.6 T',2090,289,{fs:9});
 plabel('fig2c-panel-label','c',1921,282);
})();

/* ---------- heatmap helper ---------- */
function heat(name,x0,x1,y0,y1,vTop,vBot,bv,bl,br,lines,cid){
 const sx=lin(-8,8,x0,x1), sy=lin(vTop,vBot,y0,y1);
 clip(cid,x0,y0,x1-x0,y1-y0);
 const g=E('g',{'clip-path':'url(#'+cid+')'});
 
 
 let d='M'+sx(bl[0])+','+sy(bv[0]);
 for(let i=1;i<bv.length;i++)d+='L'+sx(bl[i])+','+sy(bv[i]);
 for(let i=bv.length-1;i>=0;i--)d+='L'+sx(br[i])+','+sy(bv[i]);
 const reg=E('path',{d:d+'Z',fill:'#42106a'},g);
 
 
 const bot=E('rect',{x:x0,y:sy(-7.7),width:x1-x0,height:y1-sy(-7.7),fill:'#1e0838'},g);
 
 
 lines.forEach(s=>{
  const a=E('line',{x1:sx(s[0]),y1:sy(s[1]),x2:sx(s[2]),y2:sy(s[3]),stroke:'#b23a5e','stroke-width':4,opacity:0.6},g);
  
  
  const b=E('line',{x1:sx(s[0]),y1:sy(s[1]),x2:sx(s[2]),y2:sy(s[3]),stroke:'#ef8a2c','stroke-width':1.3,opacity:0.9},g);
  
  });
 return {sx:sx,sy:sy,g:g};}

/* ---------- FIG 2b ---------- */
(function(){
 const x0=2173,x1=2347,y0=80,y1=224;
 const h=heat('fig2b',x0,x1,y0,y1,-6,-8,f2bBoundVch,f2bBoundLeft,f2bBoundRight,f2bLines,'cp2b');
 const hot=E('ellipse',{cx:h.sx(0),cy:h.sy(-7.58),rx:14,ry:3,fill:'#fde27a'},h.g);
 
 
 f2bLabels.forEach((s,i)=>T('fig2b-subband-number',s,h.sx(f2bLabVsd[i]),h.sy(f2bLabVch[i])+4,{fs:10,c:'#fff',p:h.g}));
 frame('fig2b-frame',x0,y0,x1-x0,y1-y0);
 yTicks('fig2b-y',h.sy,[-6.0,-6.5,-7.0,-7.5,-8.0],x0,v=>v.toFixed(1).replace('-','−'));
 xTicks('fig2b-x',h.sx,f2VsdTicks,y1);
 T('fig2b-x-title','Vsd (mV)',(x0+x1)/2,y1+22,{fs:9});
 T('fig2b-y-title','Vch (V)',x0-27,(y0+y1)/2,{fs:9,rot:-90});
 const bz=E('rect',{x:2174,y:81,width:32,height:14,fill:'#e9d5ee'});
 
 
 T('fig2b-bz-label','Bz = 0',2190,92,{fs:9});
 const cb=E('rect',{x:2315,y:83,width:4,height:22,fill:'url(#gInf)'});
 
 
 T('fig2b-colorbar-20','20',2321,88,{fs:6,a:'start'});
 T('fig2b-colorbar-0','0',2321,106,{fs:6,a:'start'});
 T('fig2b-colorbar-title','dG/dVch',2341,95,{fs:6,rot:-90});
 plabel('fig2b-panel-label','b',2154,88);
})();
/* ---------- FIG 2d ---------- */
(function(){
 const x0=2173,x1=2347,y0=274,y1=415;
 const h=heat('fig2d',x0,x1,y0,y1,-4,-8,f2dBoundVch,f2dBoundLeft,f2dBoundRight,f2dLines,'cp2d');
 const hot=E('ellipse',{cx:h.sx(1),cy:h.sy(-7.15),rx:9,ry:3,fill:'#fde27a'},h.g);
 
 
 const box=E('rect',{x:h.sx(-2.46),y:h.sy(-6.07),width:h.sx(2)-h.sx(-2.46),height:h.sy(-7.37)-h.sy(-6.07),fill:'none',stroke:'#fff','stroke-dasharray':'2,1.5','stroke-width':0.8});
 
 
 const ins=E('rect',{x:2180,y:283,width:47,height:44,fill:'#4a0d6a',stroke:'#fff','stroke-dasharray':'2,1.5','stroke-width':0.8});
 
 
 const dia=E('polygon',{points:'2196,322 2203,306 2210,322',fill:'none',stroke:'#8fd0ff','stroke-width':0.8});
 
 
 const ib=E('line',{x1:2187,x2:2222,y1:319,y2:316,stroke:'#f5a030','stroke-width':2});
 
 
 T('fig2d-inset-label','2ΔEz/e',2202,294,{fs:6.5,c:'#fff'});
 const c1=E('path',{d:'M2227,283 L'+(h.sx(2))+','+h.sy(-6.07)+' M2180,327 L'+h.sx(-2.46)+','+h.sy(-7.37),stroke:'#fff','stroke-dasharray':'2,1.5','stroke-width':0.6,fill:'none'});
 
 
 frame('fig2d-frame',x0,y0,x1-x0,y1-y0);
 yTicks('fig2d-y',h.sy,[-4,-5,-6,-7,-8],x0);
 xTicks('fig2d-x',h.sx,f2VsdTicks,y1);
 T('fig2d-x-title','Vsd (mV)',(x0+x1)/2,y1+22,{fs:9});
 T('fig2d-y-title','Vch (V)',x0-22,(y0+y1)/2,{fs:9,rot:-90});
 const bz=E('rect',{x:2289,y:276,width:57,height:15,fill:'#e9d5ee'});
 
 
 T('fig2d-bz-label','Bz = 0.6 T',2318,288,{fs:9});
 plabel('fig2d-panel-label','d',2154,282);
})();

/* ---------- FIG 3a ---------- */
(function(){
 const x0=1860,x1=2013,y0=574,y1=698;
 const sx=lin(-7.95,-6.5,x0,x1), sy=lin(0,4,696,614);
 [1,2,3,4].forEach(v=>{const l=E('line',{x1:x0,x2:x1,y1:sy(v),y2:sy(v),stroke:'#ddd','stroke-width':1});
  
  });
 clip('cp3a',x0,y0,x1-x0,y1-y0);
 const g=E('g',{'clip-path':'url(#cp3a)'});
 
 
 f3aTemps.slice().reverse().forEach(Tk=>{const f=(Tk-1)/5;const ys=f3aVch.map((v,i)=>f3aG1[i]+(f3aG6[i]-f3aG1[i])*f);
  path('fig3a-temperature-trace',f3aVch,ys,sx,sy,copper(0.15+0.85*f),1.2,g);});
 frame('fig3a-frame',x0,y0,x1-x0,y1-y0);
 yTicks('fig3a-y',sy,[0,1,2,3,4],x0);
 xTicks('fig3a-x',sx,[-7.5,-7.0,-6.5],y1,v=>v.toFixed(1).replace('-','−'));
 T('fig3a-x-title','Vch (V)',(x0+x1)/2,y1+22,{fs:9});
 T('fig3a-y-title','G (e²/h)',x0-20,(y0+y1)/2,{fs:9,rot:-90});
 const cb=E('rect',{x:1970,y:654,width:5,height:33,fill:'url(#gCop)'});
 
 
 T('fig3a-colorbar-title','T (K)',1973,645,{fs:8,it:true});
 T('fig3a-colorbar-6','6',1980,658,{fs:7,a:'start'});
 T('fig3a-colorbar-1','1',1980,688,{fs:7,a:'start'});
 T('fig3a-black-arrow','←',1920,620,{fs:9});
 T('fig3a-copper-arrow','←',1924,660,{fs:9,c:'#e07a40'});
 plabel('fig3a-panel-label','a',1840,580);
})();
/* ---------- FIG 3b / 3c ---------- */
function scaling(name,x0,x1,y0,y1,sxl,syl,lt,lu,xt){
 clip('cp'+name,x0,y0,x1-x0,y1-y0);
 const g=E('g',{'clip-path':'url(#cp'+name+')'});
 
 
 for(let i=0;i<lt.length-1;i++){const e=E('line',{x1:sxl(lt[i]),y1:syl(lu[i]),x2:sxl(lt[i+1]),y2:syl(lu[i+1]),stroke:cmap(VIR,1-i/(lt.length-2)),'stroke-width':9,'stroke-linecap':'round'},g);
  
  }
 path(name+'-theory-line',[lt[0]-0.2,lt[lt.length-1]+0.2],[lu[0]-0.2,lu[lu.length-1]+0.2],sxl,syl,'#000',1,g);
 frame(name+'-frame',x0,y0,x1-x0,y1-y0);
 xt.forEach(v=>T(name+'-x-tick','10'+(v===-1?'⁻¹':v===0?'⁰':'¹'),sxl(v),y1+9,{fs:7}));
 [-1,0].forEach(v=>T(name+'-y-tick','10'+(v===-1?'⁻¹':'⁰'),x0-3,syl(v)+3,{fs:7,a:'end'}));
 T(name+'-y-title','uK',x0-20,(y0+y1)/2,{fs:8,rot:-90,it:true});}
(function(){
 const sxl=lin(0,1,2157,2216), syl=lin(0,-1,627,672);
 scaling('fig3b',2067,2220,574,700,sxl,syl,f3bLogT,f3bLogU,[-1,0]);
 T('fig3b-x-title','T/T_K^SU(2)',2143,720,{fs:8,it:true});
 const cb=E('rect',{x:2186,y:657,width:5,height:31,fill:'url(#gVir)',transform:'rotate(180 2188.5 672.5)'});
 
 
 T('fig3b-colorbar-title','Vch (V)',2197,648,{fs:7.5});
 T('fig3b-colorbar-top','−7.0',2193,660,{fs:6.5,a:'start'});
 T('fig3b-colorbar-bottom','−7.4',2193,689,{fs:6.5,a:'start'});
 plabel('fig3b-panel-label','b',2050,580);
 const sxl2=lin(-1,0,2294,2349);
 scaling('fig3c',2272,2428,574,700,sxl2,syl,f3cLogT,f3cLogU,[-1,0,1]);
 T('fig3c-x-title','T/T_K^SU(4)',2350,720,{fs:8,it:true});
 plabel('fig3c-panel-label','c',2238,580);
})();
/* ---------- FIG 3d ---------- */
(function(){
 const x0=1860,x1=2013,y0=734,y1=861;
 const sx=lin(-4,4,x0+5,x1-5), sy=lin(1,4,832,735);
 f3dLevels.forEach(f=>{const ys=f3dVsd.map((v,i)=>mapTriple(f3dLow,f3dMid,f3dTop,f,i));
  path('fig3d-vch-trace',f3dVsd,ys,sx,sy,cmap(VIR,f*0.92),0.9);});
 path('fig3d-red-trace',f3dVsd,f3dRed,sx,sy,'#e0201e',1.2);
 frame('fig3d-frame',x0,y0,x1-x0,y1-y0);
 yTicks('fig3d-y',sy,[1,2,3,4],x0);
 xTicks('fig3d-x',sx,[-4,-2,0,2,4],y1);
 T('fig3d-x-title','Vsd (mV)',(x0+x1)/2,y1+22,{fs:9});
 T('fig3d-y-title','G (e²/h)',x0-20,(y0+y1)/2,{fs:9,rot:-90});
 const cb=E('rect',{x:1981,y:750,width:4,height:26,fill:'url(#gVir)',transform:'rotate(180 1983 763)'});
 
 
 T('fig3d-colorbar-title','Vch (V)',1995,745,{fs:7.5});
 T('fig3d-colorbar-top','−7.2',1987,755,{fs:6.5,a:'start'});
 T('fig3d-colorbar-bottom','−7.5',1987,777,{fs:6.5,a:'start'});
 plabel('fig3d-panel-label','d',1832,741);
})();
/* ---------- FIG 3e ---------- */
(function(){
 const x0=2068,x1=2220,y0=734,y1=861;
 const sx=lin(-7.46,-7.19,x0,x1);
 const lsy=lin(0,1,812,734), sy=v=>lsy(Math.log10(v));
 const band=E('rect',{x:x0,y:sy(f3eSoGap[1]),width:x1-x0,height:sy(f3eSoGap[0])-sy(f3eSoGap[1]),fill:'#d6d6d6'});
 
 
 path('fig3e-tk-su2-line',f3eVch,f3eSU2,sx,sy,'#e02020',1.1);
 path('fig3e-tk-su4-line',f3eVch,f3eSU4,sx,sy,'#2a7ac0',1.1);
 frame('fig3e-frame',x0,y0,x1-x0,y1-y0);
 xTicks('fig3e-x',sx,f3eVch,y1,v=>v.toFixed(2).replace('-','−'),{fs:6.5});
 T('fig3e-y-tick-1','10¹',x0-3,737,{fs:7,a:'end'});
 T('fig3e-y-tick-0','10⁰',x0-3,815,{fs:7,a:'end'});
 T('fig3e-x-title','Vch (V)',(x0+x1)/2,y1+22,{fs:9});
 T('fig3e-y-title','TK (K)',x0-20,(y0+y1)/2,{fs:9,rot:-90});
 const lb=E('rect',{x:x0+2,y:736,width:40,height:44,fill:'#fff',stroke:'#ccc','stroke-width':0.5});
 
 
 const a=E('line',{x1:x0+5,x2:x0+15,y1:745,y2:745,stroke:'#2a7ac0'});
 
 
 const b=E('line',{x1:x0+5,x2:x0+15,y1:759,y2:759,stroke:'#e02020'});
 
 
 const c=E('rect',{x:x0+5,y:769,width:9,height:6,fill:'#ccc'});
 
 
 T('fig3e-legend-su4','T_K^SU(4)',x0+17,748,{fs:6,a:'start'});
 T('fig3e-legend-su2','T_K^SU(2)',x0+17,762,{fs:6,a:'start'});
 T('fig3e-legend-so','SO gap',x0+17,775,{fs:6,a:'start'});
 T('fig3e-su4-label','SU(4)',2177,809,{fs:8});
 T('fig3e-su2-label','SU(2)',2177,848,{fs:8});
 plabel('fig3e-panel-label','e',2041,741);
})();
/* ---------- FIG 3f ---------- */
(function(){
 const x0=2275,x1=2428,y0=734,y1=861;
 const sx=lin(-2,2,x0,x1), sy=lin(2.0,2.6,860,744);
 f3fTemps.slice().reverse().forEach(f=>{const ys=f3fVsd.map((v,i)=>f3fCold[i]+(f3fHot[i]-f3fCold[i])*f);
  path('fig3f-temperature-trace',f3fVsd,ys,sx,sy,copper(0.08+0.92*f),0.9);});
 frame('fig3f-frame',x0,y0,x1-x0,y1-y0);
 yTicks('fig3f-y',sy,[2.0,2.1,2.2,2.3,2.4,2.5,2.6],x0,v=>v.toFixed(1),{fs:6.5});
 xTicks('fig3f-x',sx,[-2,-1,0,1,2],y1);
 T('fig3f-x-title','Vsd (mV)',(x0+x1)/2,y1+22,{fs:9});
 T('fig3f-y-title','G (e²/h)',x0-22,(y0+y1)/2,{fs:9,rot:-90});
 const cb=E('rect',{x:2373,y:737,width:4,height:36,fill:'url(#gCop)'});
 
 
 T('fig3f-colorbar-6','6',2383,744,{fs:6.5});
 T('fig3f-colorbar-2','2',2383,772,{fs:6.5});
 plabel('fig3f-panel-label','f',2240,741);
})();

/* ---------- FIG 4a ---------- */
(function(){
 const x0=2644,x1=2786,y0=86,y1=185;
 const sx=lin(-8,-5.5,x0,x1), sy=lin(0,10,184,103);
 [2,4,6,8,10].forEach(v=>{const l=E('line',{x1:x0,x2:x1,y1:sy(v),y2:sy(v),stroke:'#ddd','stroke-width':1});
  
  });
 f4aFields.forEach(B=>{const f=B/3;const ys=f4Vch.map((v,i)=>f4aB0[i]+(f4aB3[i]-f4aB0[i])*f);
  path('fig4a-field-trace',f4Vch,ys,sx,sy,redmap(f),1);});
 frame('fig4a-frame',x0,y0,x1-x0,y1-y0);
 yTicks('fig4a-y',sy,[0,2,4,6,8,10],x0,null,{fs:6.5});
 xTicks('fig4a-x',sx,[-8,-7.5,-7,-6.5,-6,-5.5],y1,v=>v.toFixed(1).replace('-','−'),{fs:6.5});
 T('fig4a-y-title','G (e²/h)',x0-18,(y0+y1)/2,{fs:8,rot:-90});
 const cb=E('rect',{x:2741,y:140,width:4,height:25,fill:'url(#gRed)'});
 
 
 T('fig4a-colorbar-title','B∥ (T)',2746,134,{fs:6.5});
 T('fig4a-colorbar-3','3',2749,145,{fs:6,a:'start'});
 T('fig4a-colorbar-0','0',2749,166,{fs:6,a:'start'});
 plabel('fig4a-panel-label','a',2626,97);
})();
/* ---------- FIG 4b ---------- */
(function(){
 const x0=2644,x1=2786,y0=210,y1=310;
 const sx=lin(-8,-5.5,x0,x1), sy=lin(0,75,309,235);
 f4bOffsets.forEach((o,k)=>{const ys=f4bProfile.map(p=>o+p*(0.7+0.1*k));
  const l=E('line',{x1:x0,x2:x1,y1:sy(o),y2:sy(o),stroke:'#ccc','stroke-width':1});
  
  
  path('fig4b-field-trace',f4bVch,ys,sx,sy,redmap(k/5),1);});
 frame('fig4b-frame',x0,y0,x1-x0,y1-y0);
 yTicks('fig4b-y',sy,f4bYTicks,x0,null,{fs:6.5});
 xTicks('fig4b-x',sx,[-8,-7.5,-7,-6.5,-6,-5.5],y1,v=>v.toFixed(1).replace('-','−'),{fs:6.5});
 T('fig4b-x-title','Vch (V)',(x0+x1)/2,y1+22,{fs:9});
 T('fig4b-y-title','dG/dVch (e²/(hV))',x0-20,(y0+y1)/2,{fs:7.5,rot:-90});
 plabel('fig4b-panel-label','b',2626,218);
})();
/* ---------- FIG 4c ---------- */
(function(){
 const x0=2830,x1=2964,y0=86,y1=310;
 const sy=lin(0,8,300,123);
 const sx=waterfall('fig4c-vch',x0,x1,y0,y1,sy,f4cLow,f4cMid,f4cTop,f2Levels,t=>cmap(VIR,1-t),0.8);
 const h=E('line',{x1:x0,x2:x1,y1:sy(2.8),y2:sy(2.8),stroke:'#999','stroke-width':1.5});
 
 
 T('fig4c-0.7-label','0.7',2956,sy(2.8)-3,{fs:8,c:'#888'});
 const r=E('rect',{x:sx(-0.5),y:sy(1.5),width:sx(0.5)-sx(-0.5),height:sy(0.2)-sy(1.5),fill:'none',stroke:'#000','stroke-dasharray':'3,2','stroke-width':1});
 
 
 [-0.4,0.4].forEach(v=>{const t=E('polygon',{points:(sx(v)-3)+','+(sy(3.0)+3)+' '+(sx(v)+3)+','+(sy(3.0)+3)+' '+sx(v)+','+(sy(3.0)-3),fill:'#d01010'});
  
  });
 frame('fig4c-frame',x0,y0,x1-x0,y1-y0);
 yTicks('fig4c-y',sy,[0,2,4,6,8],x0);
 xTicks('fig4c-x',sx,f2VsdTicks,y1);
 T('fig4c-x-title','Vsd (mV)',(x0+x1)/2,y1+22,{fs:9});
 T('fig4c-y-title','G (e²/h)',x0-18,(y0+y1)/2,{fs:9,rot:-90});
 T('fig4c-title','B∥ = 3 T',2897,78,{fs:9});
 const tl=E('line',{x1:x0,x2:x1,y1:83,y2:83,stroke:'#aaa','stroke-width':0.8});
 
 
 const cb=E('rect',{x:2938,y:104,width:4,height:25,fill:'url(#gVir)',transform:'rotate(180 2940 116.5)'});
 
 
 T('fig4c-colorbar-title','Vch (V)',2950,97,{fs:7.5});
 T('fig4c-colorbar-top','−6',2945,108,{fs:6.5,a:'start'});
 T('fig4c-colorbar-bottom','−8',2945,131,{fs:6.5,a:'start'});
 plabel('fig4c-panel-label','c',2815,97);
})();
</script>
</body></html>
